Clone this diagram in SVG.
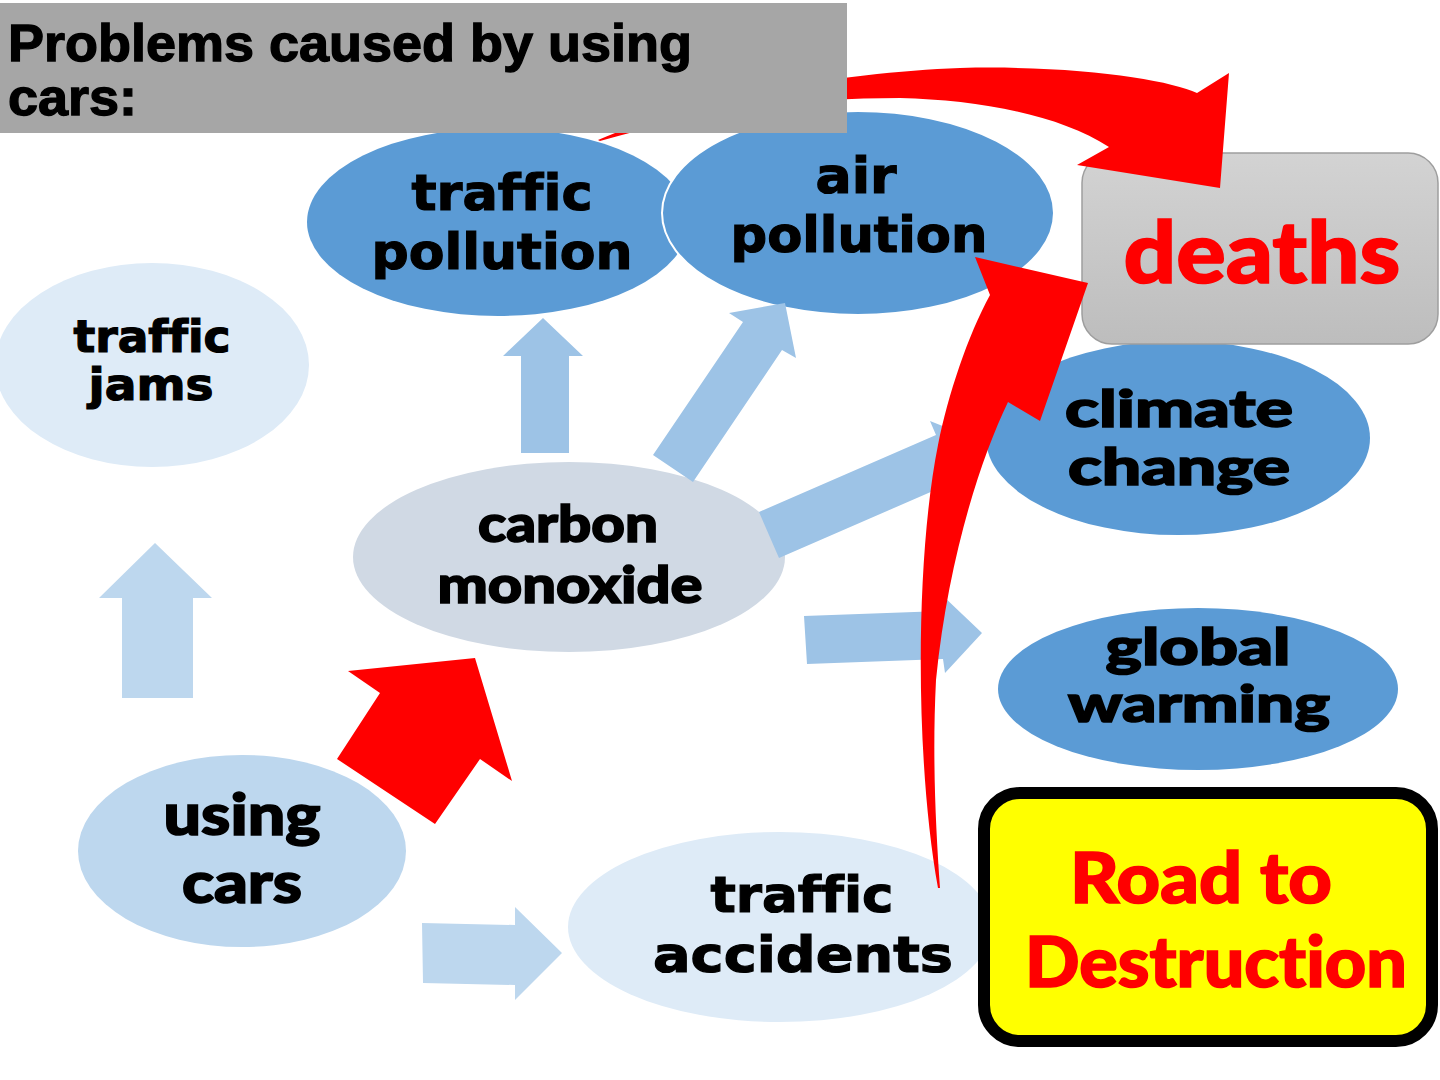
<svg xmlns="http://www.w3.org/2000/svg" width="1440" height="1080" viewBox="0 0 1440 1080">
<defs>
<style>
text{font-variant-ligatures:none;font-feature-settings:"liga" 0}
.blk{font-family:"DejaVu Sans","Liberation Sans",sans-serif;font-weight:bold;fill:#000;stroke:#000;stroke-width:1.2;text-anchor:middle}
.fut{font-family:Lato,"Liberation Sans",sans-serif;font-weight:900;fill:#000;stroke:#000;stroke-width:1.6;text-anchor:middle}
.fut.red{fill:#FF0000;stroke:#FF0000}
.red{fill:#FF0000}
.mid{fill:#5B9BD5}
.pale{fill:#DEEBF7}
.arrA{fill:#9DC3E6}
.arrB{fill:#BDD7EE}
.ttl{font-family:"Liberation Sans",Arial,sans-serif;font-weight:bold;font-size:52px;fill:#000;stroke:#000;stroke-width:1.3}
</style>
<linearGradient id="gGray" x1="0" y1="0" x2="0" y2="1">
<stop offset="0" stop-color="#D3D3D3"/>
<stop offset="1" stop-color="#BDBDBD"/>
</linearGradient>
</defs>
<rect width="1440" height="1080" fill="#FFFFFF"/>

<g id="node-traffic-pollution">
<ellipse class="mid" cx="498" cy="222" rx="191" ry="94"/>
<text class="blk" x="502" y="210" font-size="50" textLength="181" lengthAdjust="spacingAndGlyphs">traffic</text>
<text class="blk" x="502" y="269" font-size="50" textLength="261" lengthAdjust="spacingAndGlyphs">pollution</text>
</g>
<g id="node-air-pollution">
<ellipse class="mid" cx="858" cy="213" rx="196" ry="102" stroke="#FFFFFF" stroke-width="2"/>
<text class="blk" x="856" y="193" font-size="50" textLength="81" lengthAdjust="spacingAndGlyphs">air</text>
<text class="blk" x="859" y="252" font-size="50" textLength="257" lengthAdjust="spacingAndGlyphs">pollution</text>
</g>
<g id="node-traffic-jams">
<ellipse class="pale" cx="152" cy="365" rx="157" ry="102"/>
<text class="blk" x="152" y="352" font-size="44" textLength="157" lengthAdjust="spacingAndGlyphs">traffic</text>
<text class="blk" x="151" y="400" font-size="44" textLength="125" lengthAdjust="spacingAndGlyphs">jams</text>
</g>
<g id="node-climate-change">
<ellipse class="mid" cx="1178" cy="438" rx="192" ry="97"/>
<text class="fut" x="1179" y="427" font-size="52" textLength="228" lengthAdjust="spacingAndGlyphs">climate</text>
<text class="fut" x="1179" y="485" font-size="52" textLength="222" lengthAdjust="spacingAndGlyphs">change</text>
</g>
<g id="node-carbon-monoxide">
<ellipse cx="569" cy="557" rx="216" ry="95" fill="#D0D9E4"/>
<text class="fut" x="568" y="542" font-size="52" textLength="180" lengthAdjust="spacingAndGlyphs">carbon</text>
<text class="fut" x="570" y="603" font-size="52" textLength="265" lengthAdjust="spacingAndGlyphs">monoxide</text>
</g>
<g id="node-global-warming">
<ellipse class="mid" cx="1198" cy="689" rx="200" ry="81"/>
<text class="fut" x="1198" y="665" font-size="52" textLength="185" lengthAdjust="spacingAndGlyphs">global</text>
<text class="fut" x="1199" y="722" font-size="52" textLength="262" lengthAdjust="spacingAndGlyphs">warming</text>
</g>
<g id="node-using-cars">
<ellipse cx="242" cy="851" rx="164" ry="96" fill="#BDD7EE"/>
<text class="fut" x="242" y="835" font-size="58" textLength="157" lengthAdjust="spacingAndGlyphs">using</text>
<text class="fut" x="242" y="903" font-size="58" textLength="120" lengthAdjust="spacingAndGlyphs">cars</text>
</g>
<g id="node-traffic-accidents">
<ellipse class="pale" cx="780" cy="927" rx="212" ry="95"/>
<text class="blk" x="802" y="912" font-size="50" textLength="183" lengthAdjust="spacingAndGlyphs">traffic</text>
<text class="blk" x="803" y="972" font-size="50" textLength="300" lengthAdjust="spacingAndGlyphs">accidents</text>
</g>
<g id="node-deaths">
<rect x="1082" y="153" width="356" height="191" rx="30" fill="url(#gGray)" stroke="#9E9E9E" stroke-width="1.5"/>
<text class="fut red" x="1262" y="283" font-size="86" textLength="277" lengthAdjust="spacingAndGlyphs">deaths</text>
</g>
<g id="node-road-to-destruction">
<rect x="984" y="793" width="448" height="248" rx="36" fill="#FFFF00" stroke="#000000" stroke-width="12"/>
<text class="fut red" x="1201" y="903" font-size="70" textLength="262" lengthAdjust="spacingAndGlyphs">Road to</text>
<text class="fut red" x="1216" y="987" font-size="70" textLength="382" lengthAdjust="spacingAndGlyphs">Destruction</text>
</g>

<g id="connectors">
<polygon class="arrB" points="122,698 122,598 99,598 155,543 212,598 193,598 193,698"/>
<polygon class="arrA" points="521,453 521,356 503,356 543,318 583,356 569,356 569,453"/>
<polygon class="arrA" points="653,455 743,322 729,313 785,303 796,358 782,350 693,482"/>
<polygon class="arrA" points="759,512 936,435 930,421 983,442 962,495 956,481 779,558"/>
<polygon class="arrA" points="804,616 942,611 942,595 982,633 945,673 943,659 807,664"/>
<polygon class="arrB" points="422,923 515,925 515,907 562,953 515,1000 515,985 423,983"/>
<polygon class="red" points="475,658 512,781 480,759 435,824 337,759 380,693 348,671"/>
<path class="red" d="M 598,140 C 700,95 850,72 960,68 C 1080,65 1170,80 1197,93 L 1229,73 L 1220,188 L 1077,165 L 1109,147 C 1060,115 980,100 900,98 C 780,98 680,118 600,141 Z"/>
<path class="red" d="M 938,888 C 915,760 915,560 938,445 C 948,395 968,335 990,295 L 975,257 L 1088,283 L 1040,421 L 1008,402 C 980,460 948,560 936,680 C 932,760 936,830 940,888 Z"/>
</g>

<g id="title">
<rect x="0" y="3" width="847" height="130" fill="#A6A6A6"/>
<text class="ttl" x="8" y="61" textLength="684" lengthAdjust="spacingAndGlyphs">Problems caused by using</text>
<text class="ttl" x="8" y="115" textLength="129" lengthAdjust="spacingAndGlyphs">cars:</text>
</g>
</svg>
